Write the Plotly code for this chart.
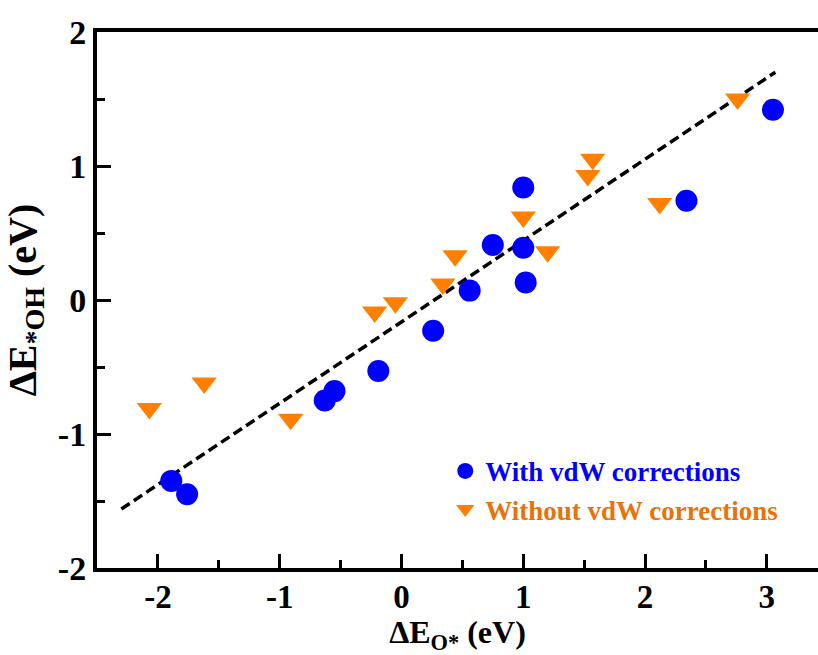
import plotly.graph_objects as go

# With vdW corrections (blue circles)
with_x = [-1.89, -1.76, -0.63, -0.55, -0.19, 0.26, 0.56, 0.75, 1.00, 1.00, 1.02, 2.34, 3.05]
with_y = [-1.35, -1.45, -0.75, -0.68, -0.53, -0.23, 0.07, 0.41, 0.84, 0.39, 0.13, 0.74, 1.42]

# Without vdW corrections (orange triangles)
without_x = [-2.07, -1.62, -0.91, -0.22, -0.05, 0.34, 0.44, 1.00, 1.20, 1.53, 1.57, 2.12, 2.76]
without_y = [-0.81, -0.62, -0.89, -0.09, -0.02, 0.12, 0.33, 0.62, 0.36, 0.93, 1.05, 0.72, 1.50]

# Linear fit line endpoints
fit_x = [-2.30, 3.07]
fit_y = [-1.56, 1.70]

x_ticks = [-2, -1, 0, 1, 2, 3]
y_ticks = [-2, -1, 0, 1, 2]

FONT = "Times New Roman, Liberation Serif, serif"

fig = go.Figure()
fig.add_trace(go.Scatter(x=fit_x, y=fit_y, mode="lines",
                         line=dict(color="black", width=3.5, dash="10px,5px"),
                         showlegend=False, hoverinfo="skip"))
fig.add_trace(go.Scatter(x=with_x, y=with_y, mode="markers",
                         name="<span style='color:#0000FF'>With vdW corrections</span>",
                         legendgroup="a",
                         marker=dict(symbol="circle", size=22, color="#0000FF")))
fig.add_trace(go.Scatter(x=without_x, y=without_y, mode="markers",
                         name="<span style='color:#E8720C'>Without vdW corrections</span>",
                         legendgroup="b",
                         marker=dict(symbol="triangle-down", size=22, color="#FF8000")))

fig.update_layout(
    width=818, height=655,
    margin=dict(l=97, r=0, t=32, b=87),
    paper_bgcolor="white", plot_bgcolor="white",
    font=dict(family=FONT, color="black"),
    showlegend=True,
    legend=dict(x=0.483, y=0.226, xanchor="left", yanchor="top",
                bgcolor="rgba(0,0,0,0)", tracegroupgap=0,
                font=dict(family=FONT, size=27, weight="bold"),
                itemsizing="trace"),
)
fig.update_xaxes(
    range=[-2.5, 3.42], tickvals=x_ticks, ticktext=[str(v) for v in x_ticks],
    showgrid=False, zeroline=False, automargin=False,
    showline=True, linecolor="black", linewidth=4, mirror=True,
    ticks="inside", ticklen=14, tickwidth=3, tickcolor="black",
    ticklabelstandoff=-4,
    minor=dict(dtick=0.5, ticks="inside", ticklen=8, tickwidth=3, tickcolor="black", showgrid=False),
    tickfont=dict(family=FONT, size=33, weight="bold"),
    title=dict(text="ΔE<sub>O*</sub> (eV)", font=dict(family=FONT, size=32, weight="bold"), standoff=10),
)
fig.update_yaxes(
    range=[-2, 2], tickvals=y_ticks, ticktext=[str(v) for v in y_ticks],
    showgrid=False, zeroline=False, automargin=False,
    showline=True, linecolor="black", linewidth=4, mirror=False,
    ticks="inside", ticklen=14, tickwidth=3, tickcolor="black",
    minor=dict(dtick=0.5, ticks="inside", ticklen=8, tickwidth=3, tickcolor="black", showgrid=False),
    tickfont=dict(family=FONT, size=34, weight="bold"),
    title=dict(text="ΔE<sub>*OH</sub> (eV)", font=dict(family=FONT, size=40, weight="bold"), standoff=14),
)

fig.write_html("out.html", config={"displayModeBar": False},
               post_script="document.body.style.margin='0';document.body.style.overflow='hidden';")
